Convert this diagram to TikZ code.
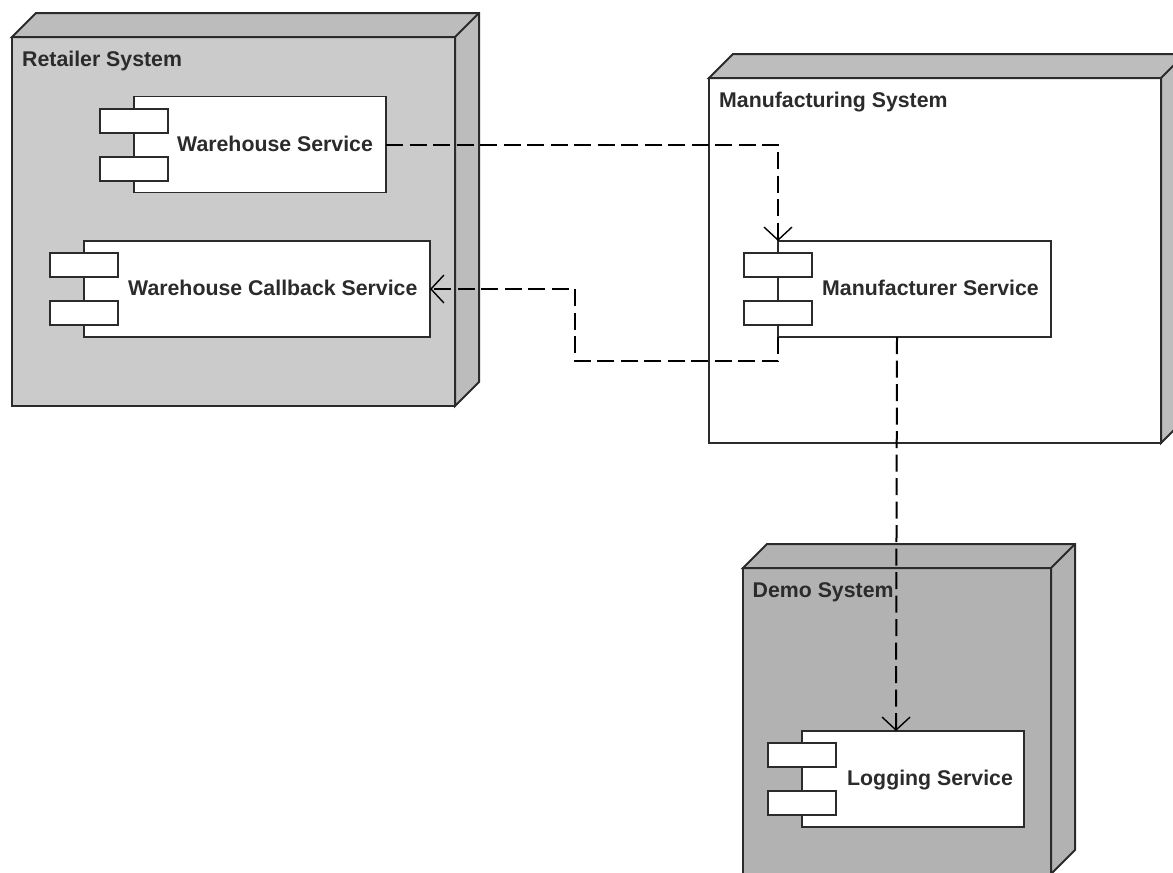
\documentclass[tikz,border=0pt]{standalone}
\usepackage{fontspec}
\setmainfont{Liberation Sans}
\usetikzlibrary{arrows.meta}
\definecolor{ink}{HTML}{2B2B2B}
\definecolor{retailfill}{HTML}{CBCBCB}
\definecolor{retailside}{HTML}{BCBCBC}
\definecolor{manuside}{HTML}{BDBDBD}
\definecolor{demofill}{HTML}{B2B2B2}
\tikzset{
  x=1pt,y=-1pt,
  sysfront/.style={draw=ink,line width=2pt,rectangle,inner sep=0pt,outer sep=0pt,anchor=north west},
  sysside/.style={draw=ink,line width=2pt,line join=miter},
  compbody/.style={draw=ink,fill=white,line width=1.8pt,rectangle,inner sep=0pt,outer sep=0pt,anchor=north west},
  compport/.style={draw=ink,fill=white,line width=1.8pt,rectangle,inner sep=0pt,outer sep=0pt,anchor=north west,minimum width=68pt,minimum height=24pt},
  txt/.style={font=\fontsize{21.3pt}{24pt}\selectfont\bfseries,text=ink,inner sep=0pt,anchor=base west},
  dep/.style={draw=black,line width=2pt,dash pattern=on 17pt off 6.5pt},
  dephead/.style={dep,-{Straight Barb[length=13pt,width=28pt,line width=1.4pt]}}
}
\begin{document}
\begin{tikzpicture}
\useasboundingbox (0,0) rectangle (1173,873);
\clip (0,0) rectangle (1173,873);
\fill[white] (0,0) rectangle (1173,873);

% Retailer System
\node[sysfront,fill=retailfill,minimum width=443pt,minimum height=369pt] (rs) at (12,37) {};
\draw[sysside,fill=retailside] (rs.north west) -- ++(24,-24) -- ++(443,0) -- ++(0,369) -- (rs.south east) -- (rs.north east) -- cycle;
\draw[sysside] (rs.north east) -- ++(24,-24);
\node[txt] (rst) at (22,66.5) {Retailer System};

% Manufacturing System
\node[sysfront,fill=white,minimum width=452pt,minimum height=365pt] (mfs) at (709,78) {};
\draw[sysside,fill=manuside] (mfs.north west) -- ++(24,-24) -- ++(452,0) -- ++(0,365) -- (mfs.south east) -- (mfs.north east) -- cycle;
\draw[sysside] (mfs.north east) -- ++(24,-24);
\node[txt] (mfst) at (719,107.7) {Manufacturing System};

% Demo System
\node[sysfront,fill=demofill,minimum width=308pt,minimum height=306pt] (ds) at (743,568) {};
\draw[sysside,fill=demofill] (ds.north west) -- ++(24,-24) -- ++(308,0) -- ++(0,306) -- (ds.south east) -- (ds.north east) -- cycle;
\draw[sysside] (ds.north east) -- ++(24,-24);
\node[txt] (dst) at (752.5,597.7) {Demo System};

% Warehouse Service
\node[compbody,minimum width=252pt,minimum height=96pt] (ws) at (134,96.5) {};
\node[compport] (wsa) at (100,109) {};
\node[compport] (wsb) at (100,157) {};
\node[txt] (wst) at (177,151.7) {Warehouse Service};

% Warehouse Callback Service
\node[compbody,minimum width=346pt,minimum height=96pt] (cb) at (84,241) {};
\node[compport] (cba) at (50,253) {};
\node[compport] (cbb) at (50,301) {};
\node[txt] (cbt) at (128,295) {Warehouse Callback Service};

% Manufacturer Service
\node[compbody,line width=1.5pt,minimum width=273pt,minimum height=96pt] (ms) at (778,241) {};
\node[compport] (msa) at (744,253) {};
\node[compport] (msb) at (744,301) {};
\node[txt] (mst) at (822,295.7) {Manufacturer Service};

% Logging Service
\node[compbody,minimum width=222pt,minimum height=96pt] (ls) at (802,731) {};
\node[compport] (lsa) at (768,743) {};
\node[compport] (lsb) at (768,791) {};
\node[txt] (lst) at (847,785.7) {Logging Service};

% Dependencies
\coordinate (c1) at (778,361);
\coordinate (c2) at (575,361);
\coordinate (c3) at (575,289);
\draw[dephead] (ws.east) -| (ms.north west);
\draw[dephead] (ms.south west) -- (c1) -- (c2) -- (c3) -- (cb.east);
\draw[dephead] ([xshift=119pt]ms.south west) -- ([xshift=94pt]ls.north west);
\end{tikzpicture}
\end{document}
